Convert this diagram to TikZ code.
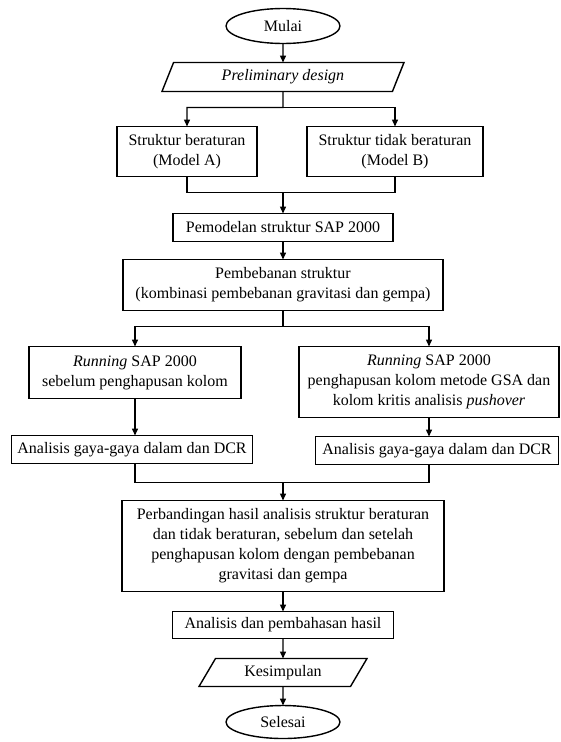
\documentclass[tikz,border=0pt]{standalone}
\usepackage{fontspec}
\setmainfont{Liberation Serif}
\usetikzlibrary{positioning}
\usetikzlibrary{shapes}
\usetikzlibrary{arrows.meta}

\begin{document}
\begin{tikzpicture}[node distance=20pt,
  font=\fontsize{16}{20}\selectfont, line width=1.4pt,
  >={Triangle[length=7pt,width=6pt]},
  every node/.style={outer sep=0pt},
  box/.style={draw, rectangle, align=center, inner xsep=4pt, inner ysep=1pt},
  terminal/.style={draw, ellipse, inner sep=0pt, minimum width=114pt},
  data/.style={draw, trapezium, trapezium stretches body, inner sep=1pt}]
\useasboundingbox (0,0) rectangle (560pt,-742pt);
\node[terminal, minimum height=35pt] (mulai) at (283pt,-26pt) {Mulai};
\node[data, trapezium left angle=55, trapezium right angle=125, minimum width=242pt, minimum height=29pt] (prelim) [below=19pt of mulai] {\textit{Preliminary design}};
\node[box, minimum width=140pt, minimum height=50pt] (modelA) [below=35pt of prelim, xshift=-96pt] {Struktur beraturan\\(Model A)};
\node[box, minimum width=176pt, minimum height=50pt] (modelB) [below=35pt of prelim, xshift=112pt] {Struktur tidak beraturan\\(Model B)};
\node[box, minimum width=220pt, minimum height=28pt] (pemodelan) [below=122pt of prelim] {Pemodelan struktur SAP 2000};
\node[box, minimum width=320pt, minimum height=51pt] (pembebanan) [below=18pt of pemodelan] {Pembebanan struktur\\(kombinasi pembebanan gravitasi dan gempa)};
\node[box, minimum width=212pt, minimum height=52pt] (runA) [below=36pt of pembebanan, xshift=-148pt] {\textit{Running} SAP 2000\\sebelum penghapusan kolom};
\node[box, minimum width=260pt, minimum height=71pt] (runB) [below=36pt of pembebanan, xshift=146pt] {\textit{Running} SAP 2000\\penghapusan kolom metode GSA dan\\kolom kritis analisis \textit{pushover}};
\node[box, minimum width=241pt, minimum height=28pt] (anaA) [below=37pt of runA, xshift=-3pt] {Analisis gaya-gaya dalam dan DCR};
\node[box, minimum width=243pt, minimum height=28pt] (anaB) [below=19pt of runB, xshift=8pt] {Analisis gaya-gaya dalam dan DCR};
\node[box, minimum width=322pt, minimum height=91pt] (perband) [below=190pt of pembebanan] {Perbandingan hasil analisis struktur beraturan\\dan tidak beraturan, sebelum dan setelah\\penghapusan kolom dengan pembebanan\\gravitasi dan gempa};
\node[box, minimum width=221pt, minimum height=27pt] (hasil) [below=of perband] {Analisis dan pembahasan hasil};
\node[data, trapezium left angle=45, trapezium right angle=135, minimum width=168pt, minimum height=28pt] (kesimpulan) [below=of hasil] {Kesimpulan};
\node[terminal, minimum height=33pt] (selesai) [below=19pt of kesimpulan] {Selesai};
% branch points
\path (prelim.south) ++(0,-16pt) coordinate (fork1);
\path (pemodelan.north) ++(0,21pt) coordinate (join1);
\path (pembebanan.south) ++(0,-16pt) coordinate (fork2);
\path (perband.north) ++(0,18pt) coordinate (join2);
\draw[->] (mulai) -- (prelim);
\draw[->] (prelim) -- (fork1) -| (modelA);
\draw[->] (fork1) -| (modelB);
\draw (modelA) |- (join1);
\draw (modelB) |- (join1);
\draw[->] (join1) -- (pemodelan);
\draw[->] (pemodelan) -- (pembebanan);
\draw[->] (pembebanan) -- (fork2) -| (runA);
\draw[->] (fork2) -| (runB);
\draw[->] (runA) -- (runA |- anaA.north);
\draw[->] (runB) -- (runB |- anaB.north);
\draw (anaA.south -| runA.south) |- (join2);
\draw (anaB.south -| runB.south) |- (join2);
\draw[->] (join2) -- (perband);
\draw[->] (perband) -- (hasil);
\draw[->] (hasil) -- (kesimpulan);
\draw[->] (kesimpulan) -- (selesai);
\end{tikzpicture}
\end{document}
